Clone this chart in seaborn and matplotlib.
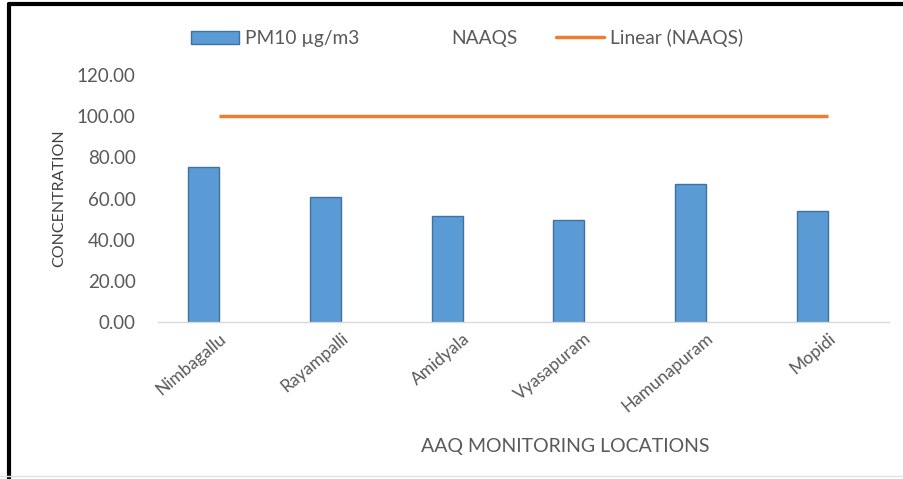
import numpy as np
import pandas as pd
import seaborn as sns
import matplotlib.pyplot as plt
from matplotlib.patches import Patch
from matplotlib.lines import Line2D

locations = ["Nimbagallu", "Rayampalli", "Amidyala", "Vyasapuram", "Hamunapuram", "Mopidi"]
pm10 = [75.2, 60.7, 51.3, 49.6, 67.0, 53.9]
naaqs = [100, 100, 100, 100, 100, 100]
y_ticks = [0, 20, 40, 60, 80, 100, 120]

bar_blue = "#5b9bd5"
line_orange = "#ed7d31"
text_grey = "#595959"

df = pd.DataFrame({
    "location": locations * 2,
    "value": pm10 + naaqs,
    "series": ["PM10"] * len(locations) + ["NAAQS"] * len(locations),
})

sns.set_theme(style="white")
plt.rcParams["font.family"] = ["Lato", "DejaVu Sans"]

fig = plt.figure(figsize=(9.04, 4.79), dpi=100)
ax = fig.add_axes([158 / 904, 1 - 322 / 479, 731 / 904, 247 / 479])

sns.barplot(data=df, x="location", y="value", hue="series", order=locations,
            hue_order=["PM10", "NAAQS"], palette=[bar_blue, bar_blue],
            width=0.51, dodge=True, ax=ax, legend=False, saturation=1,
            edgecolor="#41719c", linewidth=1)

# the NAAQS series is a hidden bar series, only its trend line shows
n = len(locations)
for patch in ax.patches[n:]:
    patch.set_facecolor("none")
    patch.set_edgecolor("none")

ax.plot(np.arange(n), naaqs, color=line_orange, lw=2.5, solid_capstyle="butt")

ax.set_xlim(-0.5, n - 0.5)
ax.set_ylim(0, 120)
ax.set_yticks(y_ticks)
ax.set_yticklabels([f"{v:.2f}" for v in y_ticks], fontsize=13.5, color=text_grey)
ax.set_xticks(range(n))
ax.set_xticklabels(locations, rotation=40, ha="right", rotation_mode="anchor",
                   fontsize=12.5, color=text_grey)
ax.tick_params(axis="y", length=0, pad=16)
ax.tick_params(axis="x", length=0, pad=6)

for side in ["top", "right", "left"]:
    ax.spines[side].set_visible(False)
ax.spines["bottom"].set_color("#d9d9d9")
ax.spines["bottom"].set_linewidth(1)

ax.set_xlabel("AAQ MONITORING LOCATIONS", fontsize=14, color=text_grey)
ax.xaxis.set_label_coords(0.557, -0.47)
ax.set_ylabel("CONCENTRATION", fontsize=11.5, color="#404040")
ax.yaxis.set_label_coords(-0.125, 0.5)

handles = [
    Patch(facecolor=bar_blue, edgecolor="#41719c"),
    Patch(facecolor="none", edgecolor="none"),
    Line2D([0], [0], color=line_orange, lw=2.5),
]
fig.legend(handles, ["PM10 µg/m3", "NAAQS", "Linear (NAAQS)"], loc="center",
           bbox_to_anchor=(467 / 904, 1 - 38 / 479), ncol=3, frameon=False,
           fontsize=13.8, labelcolor=text_grey, handlelength=2.5,
           handletextpad=0.3, columnspacing=2.0)

# frame of the screenshot
fig.add_artist(Line2D([9 / 904, 9 / 904], [0, 1 - 4 / 479], color="black", lw=3))
fig.add_artist(Line2D([9 / 904, 1], [1 - 4 / 479, 1 - 4 / 479], color="black", lw=3))
fig.add_artist(Line2D([0, 1], [3 / 479, 3 / 479], color="#e0e0e0", lw=1))

fig.savefig("out.png", dpi=100)
